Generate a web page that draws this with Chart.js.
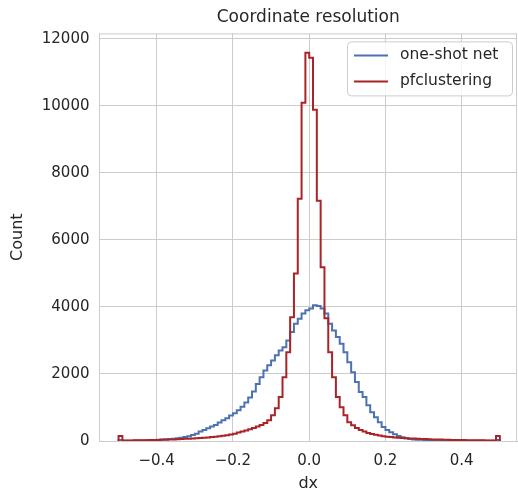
<!DOCTYPE html>
<html>
<head>
<meta charset="utf-8">
<script src="https://cdn.jsdelivr.net/npm/chart.js@4.4.1/dist/chart.umd.min.js"></script>
<style>
  html, body { margin: 0; padding: 0; background: #fff; }
  #wrap { width: 518px; height: 493px; position: relative; }
</style>
</head>
<body>
<div id="wrap"><canvas id="histChart"></canvas></div>
<script>
// histogram: 100 bins of width 0.01 from -0.5 to 0.5
const binStart = -0.5;
const binWidth = 0.01;

const oneShotCounts = [
  30, 8, 9, 10, 12, 14, 16, 19, 22, 26,
  35, 42, 50, 60, 70, 85, 100, 120, 140, 180,
  220, 280, 330, 380, 430, 480, 550, 620, 680, 760,
  830, 920, 1020, 1150, 1300, 1480, 1700, 1900, 2100, 2260,
  2400, 2560, 2700, 2800, 3000, 3250, 3500, 3650, 3800, 3900,
  3950, 4050, 4030, 3950, 3800, 3500, 3300, 3100, 2900, 2650,
  2350, 2050, 1760, 1460, 1310, 1070, 860, 710, 560, 420,
  330, 260, 200, 150, 110, 80, 60, 48, 40, 34,
  28, 24, 21, 18, 16, 14, 12, 11, 10, 9,
  8, 8, 7, 7, 6, 6, 6, 5, 5, 30
];

const pfCounts = [
  150, 15, 16, 18, 19, 21, 23, 25, 27, 30,
  33, 36, 40, 44, 48, 53, 58, 64, 70, 77,
  85, 92, 100, 108, 117, 127, 140, 155, 172, 195,
  220, 250, 280, 310, 350, 390, 430, 480, 540, 620,
  770, 980, 1310, 1900, 2650, 3690, 5000, 7230, 10090, 11580,
  11430, 9880, 7170, 5180, 3660, 2650, 1900, 1310, 1010, 770,
  560, 470, 390, 330, 280, 240, 210, 185, 165, 145,
  130, 118, 108, 99, 91, 84, 77, 71, 66, 61,
  56, 52, 48, 45, 42, 39, 36, 33, 31, 29,
  27, 25, 23, 22, 20, 19, 18, 17, 16, 150
];

const seriesNames = ['one-shot net', 'pfclustering'];
const seriesColors = ['#4c72b0', '#aa2326'];

const xTicks = [-0.4, -0.2, 0.0, 0.2, 0.4];
const yTicks = [0, 2000, 4000, 6000, 8000, 10000, 12000];

// step outline like matplotlib histtype='step'
function stepPoints(counts) {
  const pts = [{ x: binStart, y: 0 }];
  counts.forEach((c, i) => pts.push({ x: binStart + i * binWidth, y: c }));
  pts.push({ x: binStart + counts.length * binWidth, y: 0 });
  return pts;
}

const textColor = '#262626';
const gridColor = '#cccccc';
const fontFamily = '"DejaVu Sans", sans-serif';

const frameAndLegend = {
  id: 'frameAndLegend',
  afterDraw(chart) {
    const { ctx, chartArea: a } = chart;
    ctx.save();
    // top and right spines
    ctx.strokeStyle = gridColor;
    ctx.lineWidth = 1;
    ctx.beginPath();
    ctx.moveTo(a.left, a.top + 0.5);
    ctx.lineTo(a.right, a.top + 0.5);
    ctx.moveTo(a.right - 0.5, a.top);
    ctx.lineTo(a.right - 0.5, a.bottom);
    ctx.stroke();

    // legend box in the upper right
    const bx = a.right - 170, by = a.top + 8, bw = 165, bh = 54;
    ctx.beginPath();
    ctx.roundRect(bx + 0.5, by + 0.5, bw, bh, 4);
    ctx.fillStyle = 'rgba(255,255,255,0.8)';
    ctx.fill();
    ctx.strokeStyle = gridColor;
    ctx.stroke();
    ctx.font = '15.5px ' + fontFamily;
    ctx.textBaseline = 'middle';
    seriesNames.forEach((name, i) => {
      const ly = by + 14 + i * 26;
      ctx.strokeStyle = seriesColors[i];
      ctx.lineWidth = 2;
      ctx.beginPath();
      ctx.moveTo(bx + 7, ly);
      ctx.lineTo(bx + 41, ly);
      ctx.stroke();
      ctx.fillStyle = textColor;
      ctx.fillText(name, bx + 53, ly);
    });
    ctx.restore();
  }
};

new Chart(document.getElementById('histChart').getContext('2d'), {
  type: 'line',
  data: {
    datasets: [
      { label: seriesNames[0], data: stepPoints(oneShotCounts), borderColor: seriesColors[0], order: 2 },
      { label: seriesNames[1], data: stepPoints(pfCounts), borderColor: seriesColors[1], order: 1 }
    ]
  },
  options: {
    responsive: true,
    maintainAspectRatio: false,
    animation: false,
    layout: { padding: { top: 0, right: 1, bottom: 0, left: 0 } },
    elements: {
      line: { borderWidth: 2, stepped: true, tension: 0, fill: false },
      point: { radius: 0 }
    },
    plugins: {
      legend: { display: false },
      tooltip: { enabled: false },
      title: {
        display: true,
        text: 'Coordinate resolution',
        color: textColor,
        fullSize: false,
        font: { family: fontFamily, size: 17, weight: 'normal' },
        padding: { top: 7, bottom: 6 }
      }
    },
    scales: {
      x: {
        type: 'linear',
        min: -0.55,
        max: 0.545,
        afterFit: (s) => { s.height = 52; },
        afterBuildTicks: (s) => { s.ticks = xTicks.map(v => ({ value: v })); },
        grid: { color: gridColor, lineWidth: 1, tickLength: 0 },
        border: { color: gridColor },
        ticks: {
          color: textColor,
          padding: 11,
          font: { family: fontFamily, size: 15 },
          callback: (v) => (v < 0 ? '\u2212' : '') + Math.abs(v).toFixed(1)
        },
        title: {
          display: true, text: 'dx', color: textColor,
          font: { family: fontFamily, size: 16 },
          padding: { top: 0, bottom: 0 }
        }
      },
      y: {
        min: 0,
        max: 12159,
        afterFit: (s) => { s.width = 99.5; },
        afterBuildTicks: (s) => { s.ticks = yTicks.map(v => ({ value: v })); },
        grid: { color: gridColor, lineWidth: 1, tickLength: 0 },
        border: { color: gridColor },
        ticks: {
          color: textColor,
          padding: 10,
          font: { family: fontFamily, size: 15 },
          callback: (v) => String(v)
        },
        title: {
          display: true, text: 'Count', color: textColor,
          font: { family: fontFamily, size: 16 },
          padding: { top: 8, bottom: 0 }
        }
      }
    }
  },
  plugins: [frameAndLegend]
});
</script>
</body>
</html>
